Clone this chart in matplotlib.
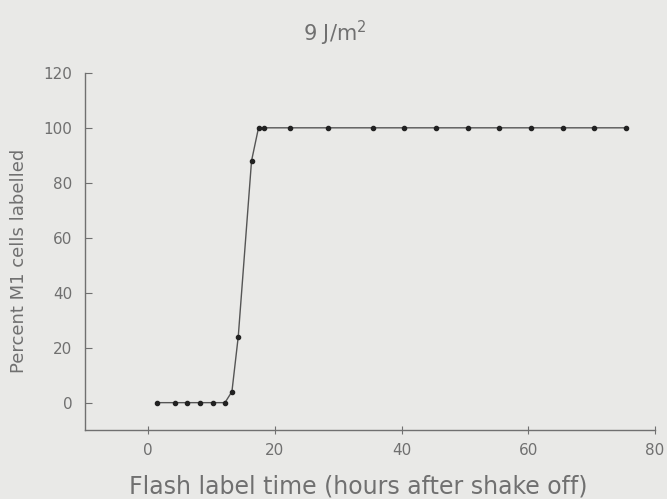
import matplotlib
matplotlib.use('Agg')
import matplotlib.pyplot as plt

# data
hours = [1.3, 4.2, 6.1, 8.1, 10.2, 12.1, 13.2, 14.2, 16.3, 17.4, 18.3,
         22.4, 28.4, 35.4, 40.3, 45.4, 50.4, 55.4, 60.4, 65.4, 70.4, 75.4]
percent = [0, 0, 0, 0, 0, 0, 4, 24, 88, 100, 100,
           100, 100, 100, 100, 100, 100, 100, 100, 100, 100, 100]
xticks = [0, 20, 40, 60, 80]
yticks = [0, 20, 40, 60, 80, 100, 120]

BG = '#e9e9e7'
INK = '#707070'

plt.rcParams['font.family'] = ['DejaVu Sans']

fig = plt.figure(figsize=(6.67, 4.99), dpi=100)
fig.patch.set_facecolor(BG)
ax = fig.add_axes([0.1274, 0.138, 0.8546, 0.716])
ax.set_facecolor(BG)

ax.plot(hours, percent, color='#555555', lw=1.0, marker='o', ms=3,
        mfc='#222222', mec='#222222')

ax.set_xlim(-10, 80)
ax.set_ylim(-10, 120)
ax.set_xticks(xticks)
ax.set_yticks(yticks)

for side in ['top', 'right']:
    ax.spines[side].set_visible(False)
for side in ['left', 'bottom']:
    ax.spines[side].set_color(INK)
    ax.spines[side].set_linewidth(1.0)

ax.tick_params(axis='y', direction='in', length=5, color=INK,
               labelcolor=INK, labelsize=11, pad=9)
ax.tick_params(axis='x', direction='inout', length=6, color=INK,
               labelcolor=INK, labelsize=11, pad=6)

ax.set_xlabel('Flash label time (hours after shake off)', fontsize=17,
              color=INK)
ax.xaxis.set_label_coords(0.48, -0.125)
ax.set_ylabel('Percent M1 cells labelled', fontsize=13, color=INK)
ax.yaxis.set_label_coords(-0.1, 0.473)
fig.text(0.502, 0.934, '9 J/m$^2$', ha='center', va='center', fontsize=15,
         color=INK)

fig.savefig('out.png', dpi=100, facecolor=fig.get_facecolor())
